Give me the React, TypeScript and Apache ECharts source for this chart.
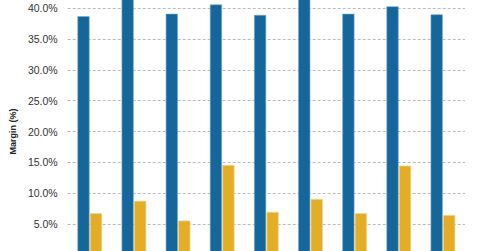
import React, { useEffect, useRef } from "react";
import * as echarts from "echarts";

const categories = ["1", "2", "3", "4", "5", "6", "7", "8", "9"];
const grossMargin = [38.7, 42.0, 39.1, 40.6, 38.9, 41.9, 39.1, 40.3, 39.0];
const netMargin = [6.8, 8.8, 5.6, 14.6, 7.0, 9.1, 6.8, 14.5, 6.5];

export default function App() {
  const ref = useRef<HTMLDivElement>(null);
  useEffect(() => {
    if (!ref.current) return;
    const chart = echarts.init(ref.current, undefined, { renderer: "svg" });
    chart.setOption({
      animation: false,
      grid: { left: 66, right: 15, top: 8, height: 247 },
      xAxis: {
        type: "category",
        data: categories,
        axisLine: { show: false },
        axisTick: { show: false },
        axisLabel: { show: false },
      },
      yAxis: {
        type: "value",
        min: 0,
        max: 40,
        interval: 5,
        name: "Margin (%)",
        nameLocation: "middle",
        nameGap: 44,
        nameTextStyle: { fontFamily: "Liberation Sans", fontSize: 9, fontWeight: "bold", color: "#222" },
        axisLine: { show: false },
        axisTick: { show: false },
        axisLabel: {
          formatter: (v: number) => (v === 0 ? "" : v.toFixed(1) + "%"),
          fontFamily: "Liberation Sans",
          fontSize: 10.5,
          color: "#333",
          margin: 10,
        },
        splitLine: { lineStyle: { color: "#bbbbbb", type: [3, 2], width: 1 } },
      },
      series: [
        {
          type: "bar",
          data: grossMargin,
          barWidth: 12.5,
          barGap: "0%",
          clip: false,
          itemStyle: { color: "#15669a", borderColor: "rgba(120,170,210,0.6)", borderWidth: 1 },
        },
        {
          type: "bar",
          data: netMargin,
          barWidth: 12.5,
          barGap: "0%",
          clip: false,
          itemStyle: { color: "#e3ad27", borderColor: "rgba(245,215,140,0.7)", borderWidth: 1 },
        },
      ],
    });
    return () => chart.dispose();
  }, []);
  return (
    <div
      ref={ref}
      style={{ position: "absolute", top: 0, left: 0, width: 480, height: 300 }}
    />
  );
}
